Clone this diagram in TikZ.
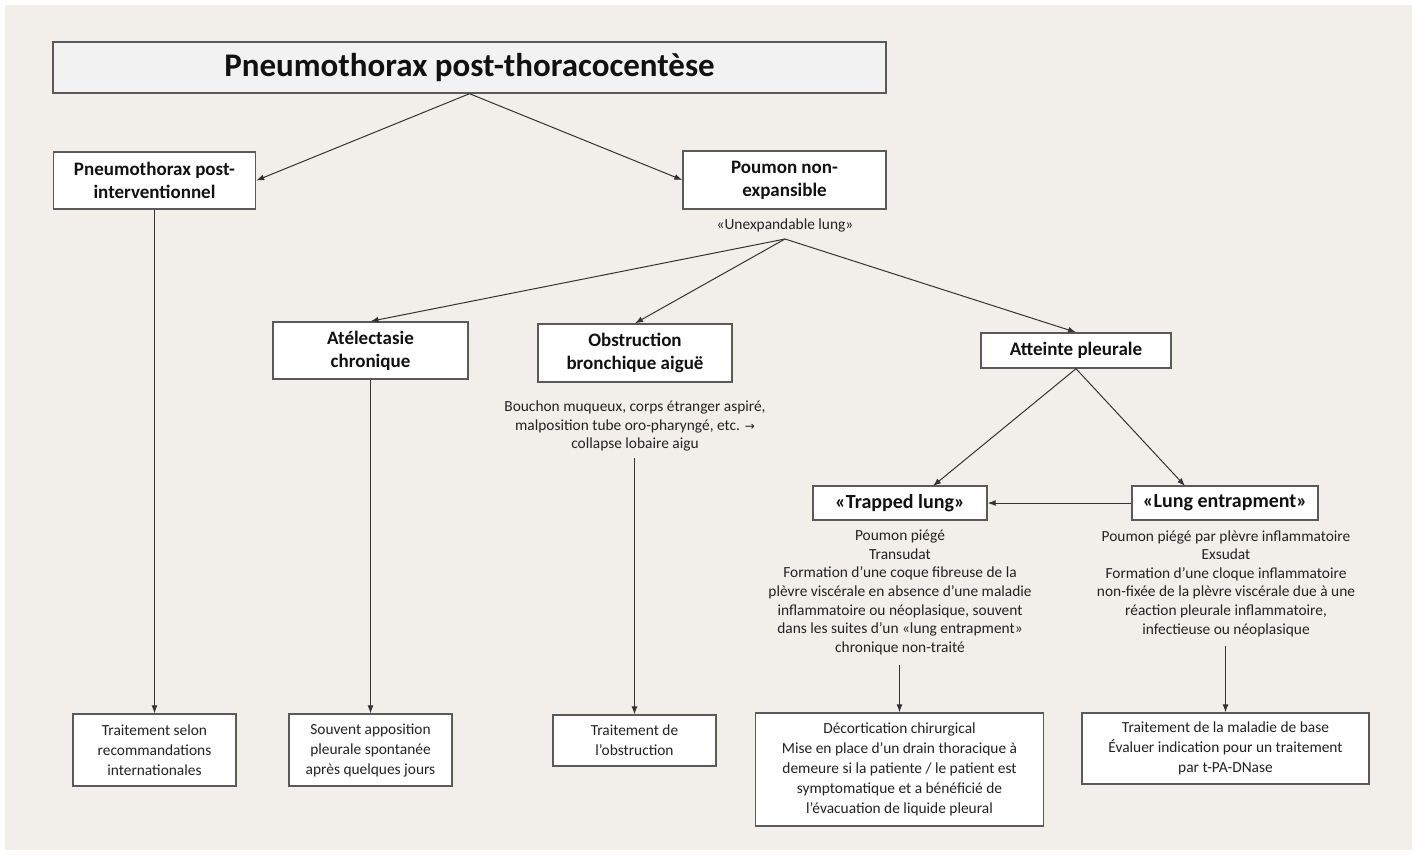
\documentclass[tikz,border=0pt]{standalone}
\usepackage{fontspec}
\setmainfont{Carlito}
\newfontfamily\symfont{DejaVu Sans}
\usetikzlibrary{arrows.meta}
\definecolor{bgbeige}{HTML}{F2EFEA}
\definecolor{titlefill}{HTML}{F2F2F2}
\definecolor{boxline}{HTML}{5A5A5A}
\definecolor{conline}{HTML}{333333}
\definecolor{txtdark}{HTML}{111111}
\definecolor{txtreg}{HTML}{222222}
\tikzset{
  boxbase/.style={draw=boxline, line width=1.4pt, fill=white, align=center, inner sep=0pt, anchor=center},
  headbox/.style={boxbase, font=\fontsize{19}{23}\selectfont\bfseries, text=txtdark},
  quotebox/.style={boxbase, font=\fontsize{20}{23}\selectfont\bfseries, text=txtdark},
  treatbox/.style={boxbase, font=\fontsize{15.4}{20}\selectfont, text=txtreg},
  desctext/.style={align=center, inner sep=0pt, anchor=center, font=\fontsize{15.4}{18.6}\selectfont, text=txtreg},
  conn/.style={draw=conline, line width=1pt, -{Latex[length=8pt,width=6pt]}}
}
\begin{document}
\begin{tikzpicture}[x=1pt,y=-1pt]
\useasboundingbox (0,0) rectangle (1416,854);
\fill[white] (0,0) rectangle (1416,854);
\fill[bgbeige] (5,5) rectangle (1412,850);

% title
\node[boxbase, fill=titlefill, minimum width=833pt, minimum height=51pt,
      font=\fontsize{33}{38}\selectfont\bfseries, text=txtdark] (title) at (469.5,67.5) {Pneumothorax post-thoracocentèse};

% level 1
\node[headbox, minimum width=202pt, minimum height=57pt] (ptx) at (154.5,180.5) {Pneumothorax post-\\interventionnel};
\node[headbox, minimum width=203pt, minimum height=58pt] (pne) at (784.5,180) {Poumon non-\\expansible};
\node[desctext] (unexp) at (785,225) {«Unexpandable lung»};
\coordinate (hub) at (785,239);

% level 2
\node[headbox, minimum width=195pt, minimum height=57pt] (atel) at (370.5,350.5) {Atélectasie\\chronique};
\node[headbox, minimum width=194pt, minimum height=58pt] (obst) at (635,353) {Obstruction\\bronchique aiguë};
\node[headbox, minimum width=190pt, minimum height=35pt] (att) at (1076,350.5) {Atteinte pleurale};

\node[desctext] (obstdesc) at (635,426) {Bouchon muqueux, corps étranger aspiré,\\malposition tube oro-pharyngé, etc. {\symfont\fontsize{12}{14}\selectfont →}\\collapse lobaire aigu};
\coordinate (obstdown) at (634.5,458);

% level 3
\node[quotebox, minimum width=174pt, minimum height=34pt] (trap) at (900,503) {«Trapped lung»};
\node[quotebox, minimum width=186pt, minimum height=34pt] (entr) at (1225,503) {«Lung entrapment»};

\node[desctext] (trapdesc) at (900,592.5) {Poumon piégé\\Transudat\\Formation d’une coque fibreuse de la\\plèvre viscérale en absence d’une maladie\\inflammatoire ou néoplasique, souvent\\dans les suites d’un «lung entrapment»\\chronique non-traité};
\node[desctext] (entrdesc) at (1226,583.5) {Poumon piégé par plèvre inflammatoire\\Exsudat\\Formation d’une cloque inflammatoire\\non-fixée de la plèvre viscérale due à une\\réaction pleurale inflammatoire,\\infectieuse ou néoplasique};
\coordinate (trapdown) at (899.5,665);
\coordinate (entrdown) at (1225.5,646);

% treatments
\node[treatbox, minimum width=163pt, minimum height=72pt] (t1) at (154.5,750) {Traitement selon\\recommandations\\internationales};
\node[treatbox, minimum width=163pt, minimum height=72pt] (t2) at (370.5,750) {Souvent apposition\\pleurale spontanée\\après quelques jours};
\node[treatbox, minimum width=163pt, minimum height=51pt] (t3) at (634.5,740.5) {Traitement de\\l’obstruction};
\node[treatbox, minimum width=288pt, minimum height=113pt] (t4) at (899.5,769.5) {Décortication chirurgical\\Mise en place d’un drain thoracique à\\demeure si la patiente / le patient est\\symptomatique et a bénéficié de\\l’évacuation de liquide pleural};
\node[treatbox, minimum width=287pt, minimum height=71pt] (t5) at (1225.5,748.5) {Traitement de la maladie de base\\Évaluer indication pour un traitement\\par t-PA-DNase};

% connectors
\draw[conn] (title.south) -- (ptx.east);
\draw[conn] (title.south) -- (pne.west);
\draw[conn] (hub) -- (atel.north);
\draw[conn] (hub) -- (obst.north);
\draw[conn] (hub) -- (att.north);
\draw[conn] (att.south) -- (933,486) coordinate (trapin);
\draw[conn] (att.south) -- (1185,486) coordinate (entrin);
\draw[conn] (entr.west) -- (trap.east);
\draw[conn] (ptx.south) -- (t1.north);
\draw[conn] (atel.south) -- (t2.north);
\draw[conn] (obstdown) -- (t3.north);
\draw[conn] (trapdown) -- (t4.north);
\draw[conn] (entrdown) -- (t5.north);
\end{tikzpicture}
\end{document}
